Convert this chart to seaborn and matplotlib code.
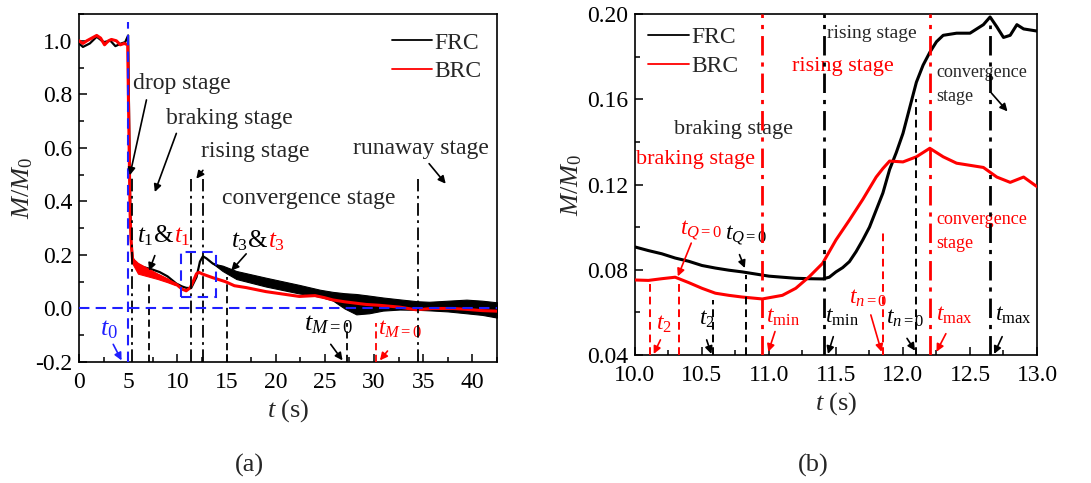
import numpy as np
import pandas as pd
import matplotlib
matplotlib.use("Agg")
import matplotlib.pyplot as plt
from matplotlib.patches import Rectangle
from matplotlib.ticker import MultipleLocator, FormatStrFormatter
import seaborn as sns

sns.set_theme(style="ticks")
plt.rcParams["font.family"] = ["Liberation Serif", "DejaVu Serif"]
plt.rcParams["mathtext.fontset"] = "custom"
plt.rcParams["mathtext.rm"] = "Liberation Serif"
plt.rcParams["mathtext.it"] = "Liberation Serif:italic"
plt.rcParams["axes.unicode_minus"] = False

# ---------------- (a) full record, 0-42.5 s ----------------
frc_t = [0, 0.4, 1.1, 1.8, 2.5, 3.2, 3.7, 4.3, 4.7, 5.0, 5.1, 5.2, 5.3, 5.45,
         5.7, 6.5, 7.5, 8.2, 9.0, 9.9, 10.5, 10.9, 11.4, 11.95, 12.3, 12.6,
         12.96, 13.6, 14.6]
frc_v = [0.99, 0.977, 0.99, 1.015, 0.995, 1.0, 0.98, 0.99, 0.995, 1.02, 0.7,
         0.4, 0.25, 0.19, 0.17, 0.155, 0.145, 0.136, 0.12, 0.093, 0.082,
         0.077, 0.076, 0.117, 0.175, 0.195, 0.187, 0.168, 0.15]

# oscillation envelope of FRC after the rising stage
frc_band_t = [13.6, 14.6, 16, 19, 22.4, 24.5, 25.8, 27, 28.2, 29.5, 30.9,
              32.6, 34.4, 35.6, 37.5, 39.4, 41, 42.5]
frc_band_hi = [0.168, 0.16, 0.14, 0.115, 0.088, 0.07, 0.062, 0.057, 0.054,
               0.048, 0.041, 0.034, 0.027, 0.025, 0.029, 0.033, 0.029, 0.023]
frc_band_lo = [0.168, 0.14, 0.11, 0.082, 0.056, 0.044, 0.03, 0.0, -0.022,
               -0.018, -0.008, -0.004, -0.005, -0.007, -0.011, -0.018, -0.024,
               -0.034]

brc_t = [0, 0.4, 0.8, 1.3, 1.8, 2.2, 2.6, 3.0, 3.3, 3.8, 4.2, 4.6, 4.95, 5.1,
         5.2, 5.3, 5.45, 5.7, 6.2, 7.2, 8.2, 9.0, 9.9, 10.5, 10.9, 11.3, 11.6,
         11.95, 12.2, 12.6, 13.6, 14.9, 15.8, 17, 19, 22.4, 24, 25, 25.8, 27,
         29.2, 30.5, 32.6, 34.3, 35.9, 38, 39.3, 41, 42.5]
brc_v = [1.0, 0.99, 1.0, 1.01, 1.02, 1.01, 0.985, 1.0, 1.005, 1.0, 0.985,
         0.99, 0.985, 0.6, 0.35, 0.25, 0.18, 0.165, 0.15, 0.135, 0.12, 0.105,
         0.09, 0.072, 0.066, 0.077, 0.1, 0.13, 0.135, 0.128, 0.115, 0.1,
         0.085, 0.078, 0.063, 0.045, 0.048, 0.04, 0.032, 0.025, 0.015, 0.012,
         0.005, -0.005, 0.0, 0.0, -0.003, -0.008, -0.01]

# oscillation envelope of BRC during the braking stage
brc_band_t = [5.4, 6.0, 7.0, 8.0, 9.0, 9.8]
brc_band_hi = [0.19, 0.17, 0.15, 0.13, 0.112, 0.093]
brc_band_lo = [0.17, 0.13, 0.12, 0.11, 0.098, 0.087]

# ---------------- (b) detail, 10-13 s ----------------
frc_zt = [10.0, 10.1, 10.2, 10.3, 10.4, 10.5, 10.6, 10.7, 10.8, 10.9, 11.0,
          11.1, 11.2, 11.3, 11.4, 11.45, 11.5, 11.55, 11.6, 11.65, 11.7, 11.75,
          11.8, 11.85, 11.9, 11.95, 12.0, 12.05, 12.1, 12.15, 12.2, 12.25,
          12.3, 12.4, 12.5, 12.6, 12.65, 12.7, 12.75, 12.8, 12.85, 12.9,
          12.95, 13.0]
frc_zv = [0.0907, 0.089, 0.0875, 0.0855, 0.084, 0.082, 0.0808, 0.0798, 0.079,
          0.078, 0.077, 0.0765, 0.076, 0.0758, 0.0757, 0.0765, 0.079, 0.081,
          0.0838, 0.0885, 0.094, 0.1, 0.108, 0.116, 0.127, 0.135, 0.144,
          0.156, 0.168, 0.176, 0.182, 0.187, 0.19, 0.191, 0.191, 0.195,
          0.1986, 0.194, 0.189, 0.19, 0.195, 0.193, 0.1925, 0.192]
brc_zt = [10.0, 10.1, 10.2, 10.3, 10.4, 10.5, 10.6, 10.7, 10.8, 10.95, 11.1,
          11.2, 11.3, 11.4, 11.5, 11.6, 11.7, 11.8, 11.85, 11.9, 12.0, 12.1,
          12.2, 12.3, 12.4, 12.5, 12.6, 12.7, 12.8, 12.9, 13.0]
brc_zv = [0.0752, 0.075, 0.0758, 0.0765, 0.074, 0.0713, 0.069, 0.068, 0.0672,
          0.0663, 0.068, 0.0713, 0.0767, 0.083, 0.094, 0.1033, 0.113, 0.1235,
          0.1275, 0.131, 0.1306, 0.133, 0.137, 0.133, 0.130, 0.129, 0.128,
          0.1235, 0.121, 0.1235, 0.119]

BLACK, RED, BLUE = "black", "#ff0000", "#1f1fff"
DASH = (0, (4, 2.5))
DASHDOT = (0, (7, 2.5, 1.5, 2.5))

fig = plt.figure(figsize=(10.91, 4.83), dpi=100)
axa = fig.add_axes([0.0724, 0.2505, 0.3831, 0.7205])
axb = fig.add_axes([0.582, 0.265, 0.3685, 0.706])

for ax in (axa, axb):
    for s in ax.spines.values():
        s.set_linewidth(1.2)
        s.set_color("black")
    ax.tick_params(which="both", direction="in", top=False, right=False,
                   labelsize=17, colors="black", width=1.1)
    ax.tick_params(which="major", length=6)
    ax.tick_params(which="minor", length=3.5)
    ax.tick_params(axis="x", which="major", pad=7)
    ax.tick_params(axis="y", which="major", pad=5)

# ---- panel (a)
axa.fill_between(frc_band_t, frc_band_lo, frc_band_hi, color=BLACK, lw=0.8,
                 zorder=2)
sns.lineplot(x=frc_t, y=frc_v, ax=axa, color=BLACK, lw=1.6, sort=False,
             estimator=None, zorder=3, label="FRC")
axa.fill_between(brc_band_t, brc_band_lo, brc_band_hi, color=RED, lw=0.8,
                 zorder=4)
sns.lineplot(x=brc_t, y=brc_v, ax=axa, color=RED, lw=2.2, sort=False,
             estimator=None, zorder=4, label="BRC")

a_vlines = [(5.43, 0.49, DASHDOT, BLACK), (7.07, 0.104, DASH, BLACK),
            (11.4, 0.485, DASHDOT, BLACK), (12.6, 0.485, DASHDOT, BLACK),
            (15.0, 0.116, DASH, BLACK), (27.28, -0.053, DASH, BLACK),
            (30.16, -0.053, DASH, RED), (34.5, 0.485, DASHDOT, BLACK)]
for x, top, ls, c in a_vlines:
    axa.vlines(x, -0.2, top, colors=c, linestyles=[ls], lw=1.3, zorder=5)

axa.vlines(5.0, -0.2, 1.07, colors=BLUE, linestyles=[(0, (5, 3))], lw=1.5,
           zorder=6)
axa.axhline(0.0, color=BLUE, ls=(0, (5, 3)), lw=1.5, zorder=6)
zoom_box = (10.4, 0.044, 13.95, 0.21)
axa.add_patch(Rectangle((zoom_box[0], zoom_box[1]), zoom_box[2] - zoom_box[0],
                        zoom_box[3] - zoom_box[1], fill=False, ec=BLUE,
                        ls=(0, (5, 3)), lw=1.5, zorder=6))

axa.set_xlim(0, 42.5)
axa.set_ylim(-0.2, 1.1)
axa.xaxis.set_major_locator(MultipleLocator(5))
axa.xaxis.set_minor_locator(MultipleLocator(2.5))
axa.yaxis.set_major_locator(MultipleLocator(0.2))
axa.yaxis.set_minor_locator(MultipleLocator(0.1))
axa.yaxis.set_major_formatter(FormatStrFormatter("%.1f"))
axa.set_xlabel("$t$ (s)", fontsize=19, labelpad=3)
axa.set_ylabel("$M/M_0$", fontsize=19, labelpad=0)
leg = axa.legend(loc="upper right", bbox_to_anchor=(0.985, 0.975),
                 frameon=False, fontsize=17, handlelength=1.7,
                 handletextpad=0.1, labelspacing=0.3, borderaxespad=0.0)
for h in leg.get_lines():
    h.set_linewidth(1.3)

FS = 17
axa.text(5.51, 0.841, "drop stage", fontsize=FS, va="center")
axa.text(8.89, 0.71, "braking stage", fontsize=FS, va="center")
axa.text(12.44, 0.585, "rising stage", fontsize=FS, va="center")
axa.text(14.57, 0.41, "convergence stage", fontsize=FS, va="center")
axa.text(27.82, 0.5975, "runaway stage", fontsize=FS, va="center")


def arrow(ax, xy_from, xy_to, color):
    ax.annotate("", xy=xy_to, xytext=xy_from,
                arrowprops=dict(arrowstyle="-|>", color=color, lw=1.2,
                                mutation_scale=11, shrinkA=0, shrinkB=0),
                zorder=7)


arrow(axa, (6.86, 0.779), (5.17, 0.4975), BLACK)
arrow(axa, (9.9, 0.654), (7.71, 0.435), BLACK)
arrow(axa, (12.6, 0.516), (11.93, 0.485), BLACK)
arrow(axa, (35.6, 0.541), (37.29, 0.466), BLACK)


def pair(ax, x, y, sub, fs):
    t1 = ax.text(x, y, f"$t_{{{sub}}}$&", fontsize=fs, va="center",
                 color=BLACK)
    ax.annotate(f"$t_{{{sub}}}$", xy=(1, 0), xycoords=t1, fontsize=fs,
                va="bottom", ha="left", color=RED)


pair(axa, 5.85, 0.2725, "1", FS + 1)
arrow(axa, (7.71, 0.1975), (7.13, 0.141), BLACK)
pair(axa, 15.42, 0.254, "3", FS + 1)
arrow(axa, (17.0, 0.204), (15.48, 0.141), BLACK)

axa.text(2.13, -0.0775, "$t_0$", fontsize=19, color=BLUE, va="center")
arrow(axa, (3.48, -0.134), (4.33, -0.194), BLUE)
axa.text(22.9, -0.062, "$t_{M=0}$", fontsize=19, color=BLACK, va="center")
arrow(axa, (25.6, -0.134), (26.8, -0.194), BLACK)
axa.text(30.36, -0.0775, "$t_{M=0}$", fontsize=17, color=RED, va="center")
arrow(axa, (31.37, -0.159), (30.6, -0.194), RED)

# ---- panel (b)
sns.lineplot(x=frc_zt, y=frc_zv, ax=axb, color=BLACK, lw=2.2, sort=False,
             estimator=None, zorder=3, label="FRC")
sns.lineplot(x=brc_zt, y=brc_zv, ax=axb, color=RED, lw=2.2, sort=False,
             estimator=None, zorder=4, label="BRC")

b_vlines = [(10.11, 0.074, DASH, RED, 1.4), (10.33, 0.074, DASH, RED, 1.4),
            (10.58, 0.066, DASH, BLACK, 1.4), (10.83, 0.0776, DASH, BLACK, 1.4),
            (10.95, 0.20, DASHDOT, RED, 2.0), (11.41, 0.20, DASHDOT, BLACK, 2.0),
            (11.85, 0.099, DASH, RED, 1.4), (12.1, 0.16, DASH, BLACK, 1.4),
            (12.2, 0.20, DASHDOT, RED, 2.0), (12.65, 0.195, DASHDOT, BLACK, 2.0)]
for x, top, ls, c, w in b_vlines:
    axb.vlines(x, 0.04, top, colors=c, linestyles=[ls], lw=w, zorder=5)

axb.set_xlim(10, 13)
axb.set_ylim(0.04, 0.20)
axb.xaxis.set_major_locator(MultipleLocator(0.5))
axb.xaxis.set_minor_locator(MultipleLocator(0.25))
axb.yaxis.set_major_locator(MultipleLocator(0.04))
axb.yaxis.set_minor_locator(MultipleLocator(0.02))
axb.xaxis.set_major_formatter(FormatStrFormatter("%.1f"))
axb.yaxis.set_major_formatter(FormatStrFormatter("%.2f"))
axb.set_xlabel("$t$ (s)", fontsize=19, labelpad=3)
axb.set_ylabel("$M/M_0$", fontsize=19, labelpad=2)
leg = axb.legend(loc="upper left", bbox_to_anchor=(0.01, 0.99),
                 frameon=False, fontsize=17, handlelength=1.7,
                 handletextpad=0.1, labelspacing=0.3, borderaxespad=0.0)
for h in leg.get_lines():
    h.set_linewidth(1.3)

axb.text(11.43, 0.191, "rising stage", fontsize=14, va="center")
axb.text(11.17, 0.1754, "rising stage", fontsize=16, va="center", color=RED)
axb.text(10.29, 0.1457, "braking stage", fontsize=16, va="center")
axb.text(10.01, 0.1317, "braking stage", fontsize=16, va="center", color=RED)
axb.text(12.25, 0.167, "convergence\nstage", fontsize=13, va="center",
         linespacing=1.5)
arrow(axb, (12.66, 0.1629), (12.78, 0.1543), BLACK)
axb.text(12.25, 0.098, "convergence\nstage", fontsize=13, va="center",
         linespacing=1.5, color=RED)

FT = 17
axb.text(10.336, 0.0985, "$t_{Q=0}$", fontsize=FT, va="center", color=RED)
arrow(axb, (10.42, 0.0925), (10.32, 0.0769), RED)
axb.text(10.67, 0.0962, "$t_{Q=0}$", fontsize=FT, va="center", color=BLACK)
arrow(axb, (10.78, 0.0871), (10.82, 0.0808), BLACK)
axb.text(10.16, 0.0545, "$t_2$", fontsize=FT, va="center", color=RED)
arrow(axb, (10.19, 0.0471), (10.14, 0.0405), RED)
axb.text(10.48, 0.0565, "$t_2$", fontsize=FT, va="center", color=BLACK)
arrow(axb, (10.535, 0.0471), (10.57, 0.0405), BLACK)
axb.text(10.98, 0.0575, r"$t_{\mathrm{min}}$", fontsize=FT, va="center",
         color=RED)
arrow(axb, (11.045, 0.051), (10.995, 0.0415), RED)
axb.text(11.42, 0.0575, r"$t_{\mathrm{min}}$", fontsize=FT, va="center",
         color=BLACK)
arrow(axb, (11.48, 0.0486), (11.44, 0.0405), BLACK)
axb.text(11.6, 0.0665, "$t_{n=0}$", fontsize=FT, va="center", color=RED)
arrow(axb, (11.76, 0.0588), (11.84, 0.0415), RED)
axb.text(11.87, 0.0572, "$t_{n=0}$", fontsize=FT, va="center", color=BLACK)
arrow(axb, (12.03, 0.0478), (12.09, 0.042), BLACK)
axb.text(12.25, 0.0585, r"$t_{\mathrm{max}}$", fontsize=FT, va="center",
         color=RED)
arrow(axb, (12.32, 0.050), (12.25, 0.0415), RED)
axb.text(12.69, 0.0585, r"$t_{\mathrm{max}}$", fontsize=FT, va="center",
         color=BLACK)
arrow(axb, (12.74, 0.0486), (12.68, 0.0405), BLACK)

fig.text(0.229, 0.037, "(a)", fontsize=19, ha="center", va="center")
fig.text(0.745, 0.037, "(b)", fontsize=19, ha="center", va="center")

fig.savefig("out.png", dpi=100)
